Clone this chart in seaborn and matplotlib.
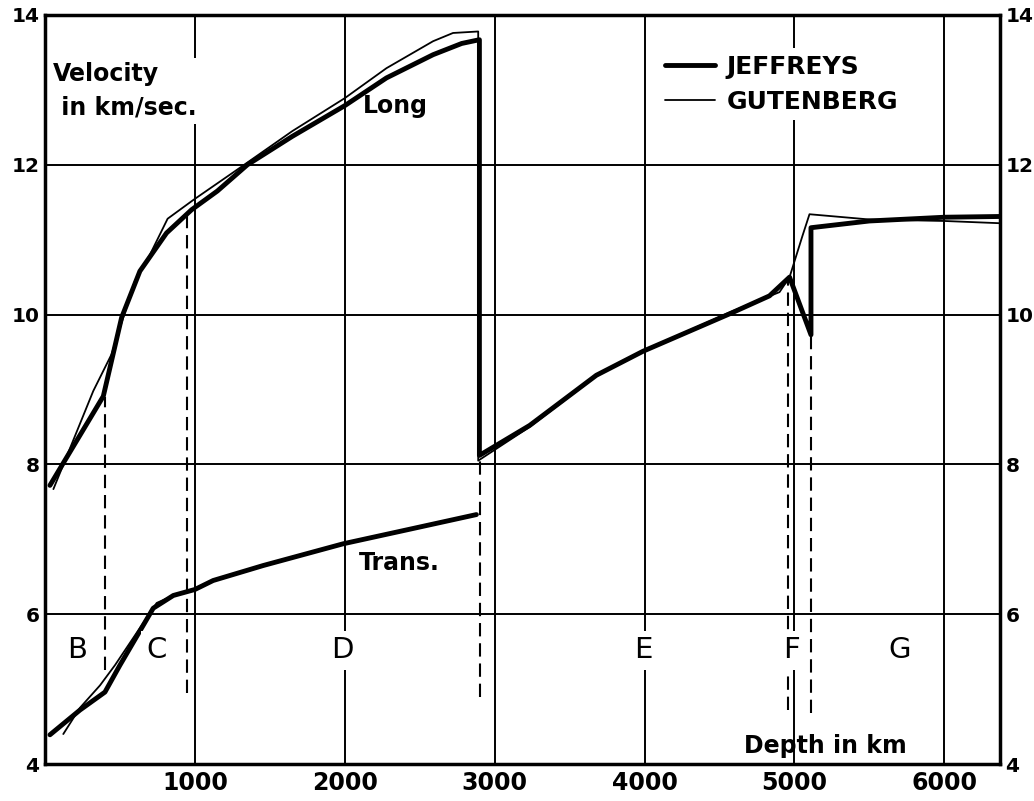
import matplotlib
matplotlib.use("Agg")
import matplotlib.pyplot as plt
import pandas as pd
import seaborn as sns

# Longitudinal (P) velocity, Jeffreys -- mantle then core (vertical drop at the core boundary)
jeff_p_depth = [33, 389, 511, 633, 811, 978, 1150, 1350, 1650, 2000, 2278, 2589, 2780, 2898,
                2898, 3233, 3678, 3989, 4567, 4833, 4967, 5110, 5110, 5500, 6000, 6371]
jeff_p_vel = [7.72, 8.91, 9.96, 10.58, 11.09, 11.40, 11.65, 12.0, 12.38, 12.79, 13.16, 13.47, 13.62, 13.67,
              8.12, 8.52, 9.19, 9.51, 10.01, 10.25, 10.50, 9.73, 11.16, 11.25, 11.30, 11.31]

# Longitudinal (P) velocity, Gutenberg
gut_p_depth = [56, 322, 444, 600, 700, 818, 989, 1300, 1650, 2000, 2278, 2589, 2722, 2890,
               2890, 3233, 3678, 3989, 4567, 4900, 4967, 5053, 5100, 5500, 6000, 6371]
gut_p_vel = [7.67, 8.98, 9.47, 10.45, 10.80, 11.28, 11.53, 11.96, 12.45, 12.89, 13.29, 13.65, 13.76, 13.78,
             8.05, 8.50, 9.18, 9.51, 10.03, 10.30, 10.50, 11.05, 11.34, 11.27, 11.25, 11.22]

# Transverse (S) velocity
jeff_s_depth = [33, 233, 400, 500, 722, 856, 1000, 1122, 1456, 1989, 2400, 2878]
jeff_s_vel = [4.39, 4.72, 4.96, 5.32, 6.08, 6.25, 6.33, 6.45, 6.65, 6.94, 7.12, 7.33]

gut_s_depth = [122, 233, 367, 467, 745, 856, 1000, 1122, 1456, 1989, 2400, 2878]
gut_s_vel = [4.40, 4.75, 5.05, 5.32, 6.15, 6.25, 6.33, 6.45, 6.65, 6.94, 7.12, 7.33]

# Layer boundaries (dashed) and layer letters
boundary_depth = [400, 950, 2900, 4960, 5107]
boundary_top = [8.9, 11.35, 8.05, 10.45, 9.7]
boundary_bottom = [5.25, 4.95, 4.9, 4.72, 4.68]

layer_names = ["B", "C", "D", "E", "F", "G"]
layer_depth = [213, 747, 1987, 3990, 4980, 5700]

x_ticks = [1000, 2000, 3000, 4000, 5000, 6000]
y_ticks = [4, 6, 8, 10, 12, 14]


def draw_curve(ax, depth, vel, lw, label):
    df = pd.DataFrame({"depth": depth, "velocity": vel})
    sns.lineplot(data=df, x="depth", y="velocity", ax=ax, color="black", linewidth=lw,
                 estimator=None, sort=False, label=label, zorder=3)


def main():
    sns.set_style("white")
    plt.rcParams["font.family"] = ["DejaVu Sans"]
    plt.rcParams["text.color"] = "black"
    plt.rcParams["axes.labelcolor"] = "black"
    plt.rcParams["xtick.color"] = "black"
    plt.rcParams["ytick.color"] = "black"

    fig = plt.figure(figsize=(10.34, 8.01), dpi=100)
    ax = fig.add_axes([45 / 1034, 1 - 764 / 801, 955 / 1034, 749 / 801])

    # thick = Jeffreys, thin = Gutenberg
    draw_curve(ax, jeff_p_depth, jeff_p_vel, 3.5, "JEFFREYS")
    draw_curve(ax, gut_p_depth, gut_p_vel, 1.3, "GUTENBERG")
    draw_curve(ax, jeff_s_depth, jeff_s_vel, 3.5, "_nolegend_")
    draw_curve(ax, gut_s_depth, gut_s_vel, 1.3, "_nolegend_")

    ax.vlines(boundary_depth, boundary_bottom, boundary_top, colors="black",
              linewidth=1.5, linestyles=(0, (6.4, 3.3)), zorder=2)

    ax.set_xlim(0, 6371)
    ax.set_ylim(4, 14)
    ax.set_xticks(x_ticks)
    ax.set_yticks(y_ticks)
    ax.grid(True, color="black", linewidth=1.4)
    ax.set_axisbelow(True)
    ax.set_xlabel("")
    ax.set_ylabel("")

    for side in ax.spines.values():
        side.set_color("black")
        side.set_linewidth(2.5)
    ax.tick_params(axis="both", length=0, colors="black")
    ax.tick_params(axis="x", labelsize=17, pad=5)
    ax.tick_params(axis="y", labelsize=14.5, pad=4, labelright=True)
    for lab in ax.get_xticklabels():
        lab.set_fontweight("bold")
    for t in ax.yaxis.get_major_ticks():
        t.label1.set_fontweight("bold")
        t.label2.set_fontweight("bold")

    white_box = dict(facecolor="white", edgecolor="none", pad=3)
    ax.text(53, 13.37, "Velocity\n in km/sec.", ha="left", va="top", fontsize=17,
            fontweight="bold", linespacing=1.5, bbox=white_box, zorder=4, color="black")
    ax.text(2340, 12.78, "Long", ha="center", va="center", fontsize=17, fontweight="bold", color="black")
    ax.text(2367, 6.68, "Trans.", ha="center", va="center", fontsize=17, fontweight="bold", color="black")
    ax.text(5207, 4.24, "Depth in km", ha="center", va="center", fontsize=17, fontweight="bold", color="black")

    for name, d in zip(layer_names, layer_depth):
        ax.text(d, 5.52, name, ha="center", va="center", fontsize=21, color="black",
                bbox=dict(facecolor="white", edgecolor="none", pad=4), zorder=4)

    leg = ax.legend(loc="upper left", bbox_to_anchor=(0.630, 0.972), frameon=True,
                    facecolor="white", edgecolor="none", framealpha=1, fancybox=False,
                    prop={"size": 18, "weight": "bold"}, handlelength=2.0,
                    handletextpad=0.45, labelspacing=0.45, borderpad=0.25)
    for txt in leg.get_texts():
        txt.set_color("black")
    leg.set_zorder(5)

    fig.savefig("out.png", dpi=100)
    plt.close(fig)


if __name__ == "__main__":
    main()
